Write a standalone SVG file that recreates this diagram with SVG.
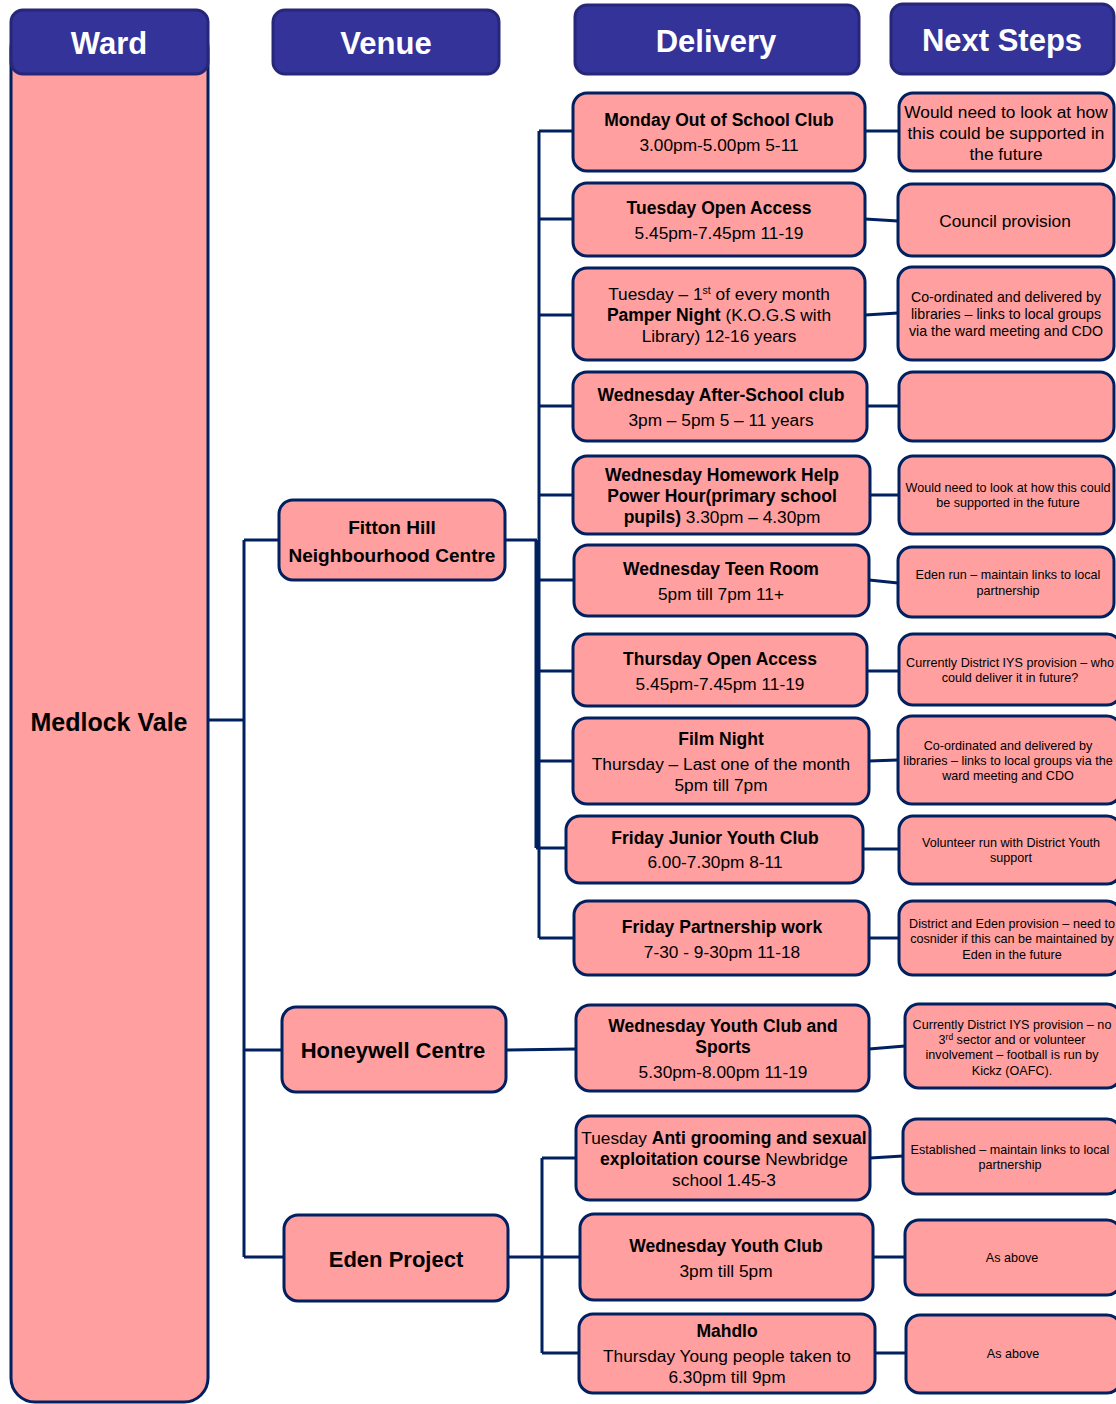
<svg xmlns="http://www.w3.org/2000/svg" width="1116" height="1404" viewBox="0 0 1116 1404">
<style>
.hdr{fill:#333399;stroke:#27277a;stroke-width:3}
.ht{fill:#ffffff;font-family:"Liberation Sans",Arial,sans-serif;font-weight:bold;font-size:31px;text-anchor:middle}
.box{fill:#ff9f9f;stroke:#002060;stroke-width:3}
.t{fill:#000000;font-family:"Liberation Sans",Arial,sans-serif;text-anchor:middle;font-size:17.3px}
.b{font-weight:bold;font-size:17.5px}
.s{font-size:14.2px}
.xs{font-size:12.6px}
.con{fill:none;stroke:#002060;stroke-width:3}
</style>
<rect width="1116" height="1404" fill="#ffffff"/>

<g id="ward">
<rect class="box" x="11" y="24" width="197" height="1378" rx="24"/>
<text class="t b" x="109" y="731" style="font-size:25px">Medlock Vale</text>
</g>
<g id="hdr-ward"><rect class="hdr" x="11" y="10" width="197" height="64" rx="12"/><text class="ht" x="109" y="54">Ward</text></g>
<g id="hdr-venue"><rect class="hdr" x="273" y="10" width="226" height="64" rx="12"/><text class="ht" x="386" y="54">Venue</text></g>
<g id="hdr-delivery"><rect class="hdr" x="575" y="5" width="284" height="69" rx="12"/><text class="ht" x="716" y="52">Delivery</text></g>
<g id="hdr-next"><rect class="hdr" x="891" y="4" width="223" height="70" rx="12"/><text class="ht" x="1002" y="51">Next Steps</text></g>

<g id="connectors">
<path class="con" d="M208,720 H244 M244,540 V1257 M244,540 H280 M244,1050 H282 M244,1257 H285"/>
<path class="con" d="M505,540 H537 M539,131 V938 M536,540 V848"/>
<path class="con" d="M539,131 H573 M539,219 H573 M539,315 H573 M539,406 H573 M539,495 H573 M539,580 H574 M539,671 H573 M539,761 H573 M536,848 H566 M539,938 H574"/>
<path class="con" d="M506,1050 L576,1049 M508,1257 H580 M542,1158 V1353 M542,1158 H576 M542,1353 H579"/>
<path class="con" d="M865,131 H899 M865,219 L898,221 M865,315 L898,313 M867,406 H899 M870,495 H899 M869,580 L898,583 M867,671 H899 M869,761 L898,760 M863,849 H899 M869,938 H899 M869,1049 L905,1046 M870,1158 L903,1156 M873,1257 H905 M875,1353 H906"/>
</g>

<g id="venue-fitton"><rect class="box" x="279" y="500" width="226" height="80" rx="14"/>
<text class="t b" x="392" y="534" style="font-size:19px">Fitton Hill</text>
<text class="t b" x="392" y="562" style="font-size:19px">Neighbourhood Centre</text></g>
<g id="venue-honeywell"><rect class="box" x="282" y="1007" width="224" height="85" rx="14"/>
<text class="t b" x="393" y="1058" style="font-size:22px">Honeywell Centre</text></g>
<g id="venue-eden"><rect class="box" x="284" y="1215" width="224" height="86" rx="14"/>
<text class="t b" x="396" y="1267" style="font-size:22px">Eden Project</text></g>

<g id="d1"><rect class="box" x="573" y="93" width="292" height="78" rx="14"/>
<text class="t b" x="719" y="126">Monday Out of School Club</text>
<text class="t" x="719" y="151">3.00pm-5.00pm 5-11</text></g>
<g id="d2"><rect class="box" x="573" y="183" width="292" height="73" rx="14"/>
<text class="t b" x="719" y="214">Tuesday Open Access</text>
<text class="t" x="719" y="239">5.45pm-7.45pm 11-19</text></g>
<g id="d3"><rect class="box" x="573" y="268" width="292" height="92" rx="14"/>
<text class="t" x="719" y="300">Tuesday – 1<tspan font-size="10.5" dy="-6">st</tspan><tspan dy="6"> of every month</tspan></text>
<text class="t" x="719" y="321"><tspan class="b">Pamper Night</tspan> (K.O.G.S with</text>
<text class="t" x="719" y="342">Library) 12-16 years</text></g>
<g id="d4"><rect class="box" x="573" y="372" width="294" height="69" rx="14"/>
<text class="t b" x="721" y="401">Wednesday After-School club</text>
<text class="t" x="721" y="426">3pm – 5pm 5 – 11 years</text></g>
<g id="d5"><rect class="box" x="573" y="456" width="297" height="78" rx="14"/>
<text class="t b" x="722" y="481">Wednesday Homework Help</text>
<text class="t b" x="722" y="502">Power Hour(primary school</text>
<text class="t" x="722" y="523"><tspan class="b">pupils)</tspan> 3.30pm – 4.30pm</text></g>
<g id="d6"><rect class="box" x="574" y="545" width="295" height="71" rx="14"/>
<text class="t b" x="721" y="575">Wednesday Teen Room</text>
<text class="t" x="721" y="600">5pm till 7pm 11+</text></g>
<g id="d7"><rect class="box" x="573" y="634" width="294" height="72" rx="14"/>
<text class="t b" x="720" y="665">Thursday Open Access</text>
<text class="t" x="720" y="690">5.45pm-7.45pm 11-19</text></g>
<g id="d8"><rect class="box" x="573" y="718" width="296" height="86" rx="14"/>
<text class="t b" x="721" y="745">Film Night</text>
<text class="t" x="721" y="770">Thursday – Last one of the month</text>
<text class="t" x="721" y="791">5pm till 7pm</text></g>
<g id="d9"><rect class="box" x="566" y="816" width="297" height="67" rx="14"/>
<text class="t b" x="715" y="844">Friday Junior Youth Club</text>
<text class="t" x="715" y="868">6.00-7.30pm 8-11</text></g>
<g id="d10"><rect class="box" x="574" y="901" width="295" height="74" rx="14"/>
<text class="t b" x="722" y="933">Friday Partnership work</text>
<text class="t" x="722" y="958">7-30 - 9-30pm 11-18</text></g>
<g id="d11"><rect class="box" x="576" y="1005" width="293" height="86" rx="14"/>
<text class="t b" x="723" y="1032">Wednesday Youth Club and</text>
<text class="t b" x="723" y="1053">Sports</text>
<text class="t" x="723" y="1078">5.30pm-8.00pm 11-19</text></g>
<g id="d12"><rect class="box" x="576" y="1116" width="294" height="84" rx="14"/>
<text class="t" x="724" y="1144">Tuesday <tspan class="b">Anti grooming and sexual</tspan></text>
<text class="t" x="724" y="1165"><tspan class="b">exploitation course</tspan> Newbridge</text>
<text class="t" x="724" y="1186">school 1.45-3</text></g>
<g id="d13"><rect class="box" x="580" y="1214" width="293" height="86" rx="14"/>
<text class="t b" x="726" y="1252">Wednesday Youth Club</text>
<text class="t" x="726" y="1277">3pm till 5pm</text></g>
<g id="d14"><rect class="box" x="579" y="1314" width="296" height="79" rx="14"/>
<text class="t b" x="727" y="1337">Mahdlo</text>
<text class="t" x="727" y="1362">Thursday Young people taken to</text>
<text class="t" x="727" y="1383">6.30pm till 9pm</text></g>

<g id="n1"><rect class="box" x="899" y="93" width="215" height="78" rx="14"/>
<text class="t" x="1006" y="118">Would need to look at how</text>
<text class="t" x="1006" y="139">this could be supported in</text>
<text class="t" x="1006" y="160">the future</text></g>
<g id="n2"><rect class="box" x="898" y="184" width="216" height="72" rx="14"/>
<text class="t" x="1005" y="227">Council provision</text></g>
<g id="n3"><rect class="box" x="898" y="267" width="216" height="93" rx="14"/>
<text class="t s" x="1006" y="302">Co-ordinated and delivered by</text>
<text class="t s" x="1006" y="319">libraries – links to local groups</text>
<text class="t s" x="1006" y="336">via the ward meeting and CDO</text></g>
<g id="n4"><rect class="box" x="899" y="372" width="215" height="69" rx="14"/></g>
<g id="n5"><rect class="box" x="899" y="456" width="215" height="78" rx="14"/>
<text class="t xs" x="1008" y="492">Would need to look at how this could</text>
<text class="t xs" x="1008" y="507">be supported in the future</text></g>
<g id="n6"><rect class="box" x="898" y="547" width="216" height="70" rx="14"/>
<text class="t xs" x="1008" y="579">Eden run – maintain links to local</text>
<text class="t xs" x="1008" y="595">partnership</text></g>
<g id="n7"><rect class="box" x="899" y="634" width="222" height="71" rx="14"/>
<text class="t xs" x="1010" y="667">Currently District IYS provision – who</text>
<text class="t xs" x="1010" y="682">could deliver it in future?</text></g>
<g id="n8"><rect class="box" x="898" y="716" width="223" height="88" rx="14"/>
<text class="t xs" x="1008" y="750">Co-ordinated and delivered by</text>
<text class="t xs" x="1008" y="765">libraries – links to local groups via the</text>
<text class="t xs" x="1008" y="780">ward meeting and CDO</text></g>
<g id="n9"><rect class="box" x="899" y="816" width="222" height="68" rx="14"/>
<text class="t xs" x="1011" y="847">Volunteer run with District Youth</text>
<text class="t xs" x="1011" y="862">support</text></g>
<g id="n10"><rect class="box" x="899" y="901" width="222" height="74" rx="14"/>
<text class="t xs" x="1012" y="928">District and Eden provision – need to</text>
<text class="t xs" x="1012" y="943">cosnider if this can be maintained by</text>
<text class="t xs" x="1012" y="959">Eden in the future</text></g>
<g id="n11"><rect class="box" x="905" y="1004" width="216" height="84" rx="14"/>
<text class="t xs" x="1012" y="1029">Currently District IYS provision – no</text>
<text class="t xs" x="1012" y="1044">3<tspan font-size="8.5" dy="-4">rd</tspan><tspan dy="4"> sector and or volunteer</tspan></text>
<text class="t xs" x="1012" y="1059">involvement – football is run by</text>
<text class="t xs" x="1012" y="1075">Kickz (OAFC).</text></g>
<g id="n12"><rect class="box" x="903" y="1119" width="218" height="75" rx="14"/>
<text class="t xs" x="1010" y="1154">Established – maintain links to local</text>
<text class="t xs" x="1010" y="1169">partnership</text></g>
<g id="n13"><rect class="box" x="905" y="1220" width="216" height="75" rx="14"/>
<text class="t xs" x="1012" y="1262">As above</text></g>
<g id="n14"><rect class="box" x="906" y="1315" width="215" height="78" rx="14"/>
<text class="t xs" x="1013" y="1358">As above</text></g>
</svg>
